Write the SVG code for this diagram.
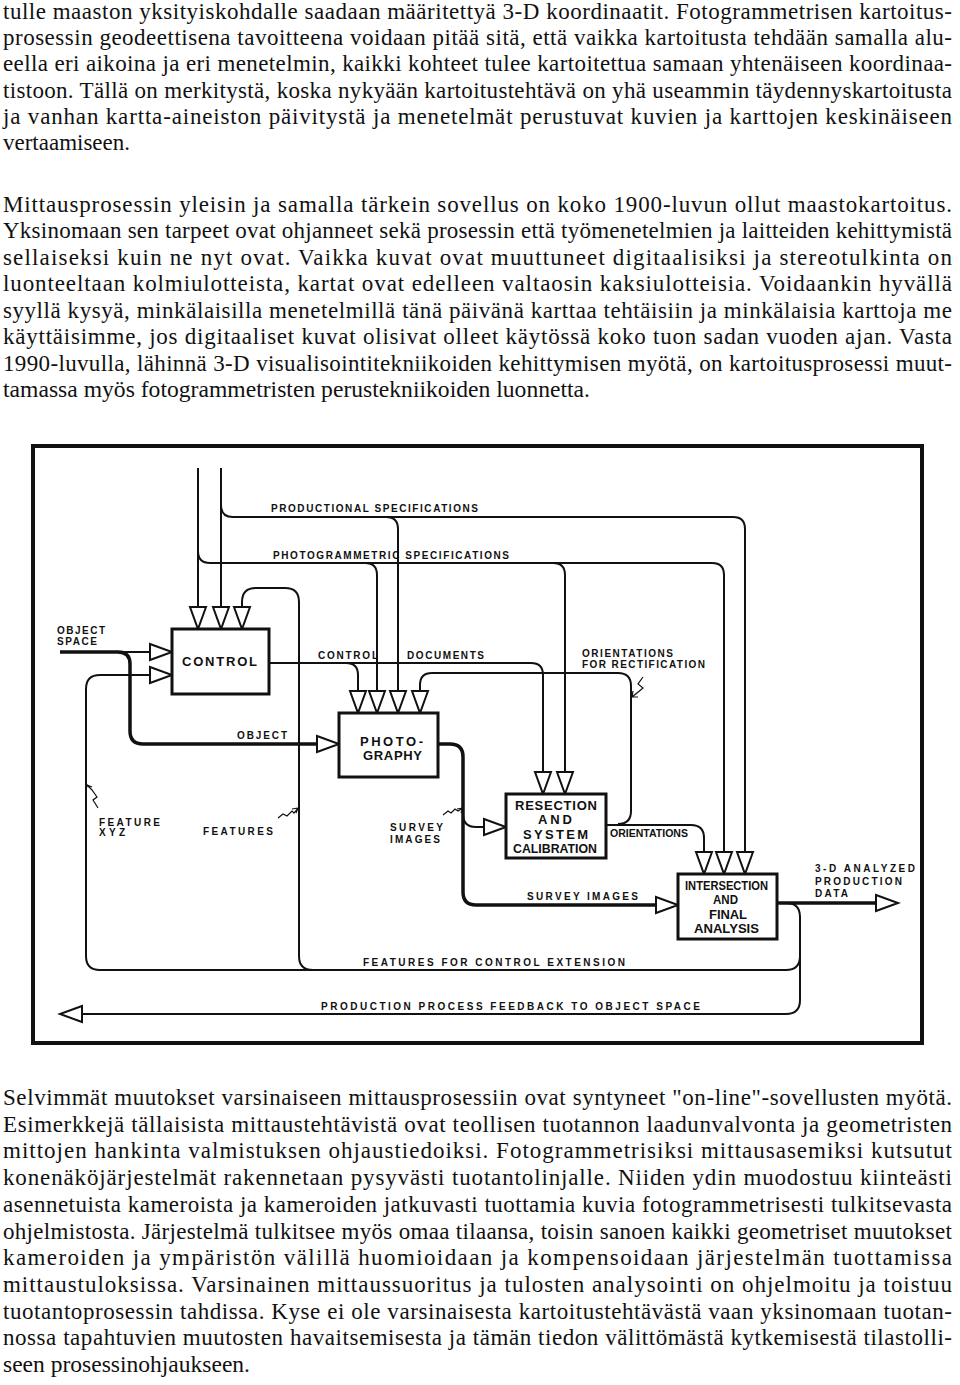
<svg xmlns="http://www.w3.org/2000/svg" width="960" height="1385" viewBox="0 0 960 1385">
<defs>
<style>
.p{font-family:"Liberation Serif","Times New Roman",serif;font-size:23px;fill:#111}
.lb{font-family:"Liberation Sans",Arial,sans-serif;font-weight:bold;font-size:10px;fill:#111}
.bt{font-family:"Liberation Sans",Arial,sans-serif;font-weight:bold;font-size:13px;fill:#111}
.bx{fill:#fff;stroke:#111;stroke-width:3}
.c{fill:none;stroke:#111;stroke-width:2}
.ck{fill:none;stroke:#111;stroke-width:3.5}
.sq{fill:none;stroke:#111;stroke-width:1.2}
.fr{fill:none;stroke:#111;stroke-width:4}
</style>
<marker id="ah" markerUnits="userSpaceOnUse" markerWidth="26" markerHeight="20" viewBox="0 0 26 20" refX="18" refY="10" orient="auto" overflow="visible">
<path d="M2,2 L24,10 L2,18 Z" fill="#fff" stroke="#111" stroke-width="2"/>
</marker>
</defs>
<rect width="960" height="1385" fill="#fff"/>

<g id="text-top">
<text class="p" x="3" y="19" textLength="949" lengthAdjust="spacing">tulle maaston yksityiskohdalle saadaan määritettyä 3-D koordinaatit. Fotogrammetrisen kartoitus-</text>
<text class="p" x="3" y="45.2" textLength="949" lengthAdjust="spacing">prosessin geodeettisena tavoitteena voidaan pitää sitä, että vaikka kartoitusta tehdään samalla alu-</text>
<text class="p" x="3" y="71.4" textLength="949" lengthAdjust="spacing">eella eri aikoina ja eri menetelmin, kaikki kohteet tulee kartoitettua samaan yhtenäiseen koordinaa-</text>
<text class="p" x="3" y="97.6" textLength="949" lengthAdjust="spacing">tistoon. Tällä on merkitystä, koska nykyään kartoitustehtävä on yhä useammin täydennyskartoitusta</text>
<text class="p" x="3" y="123.8" textLength="949" lengthAdjust="spacing">ja vanhan kartta-aineiston päivitystä ja menetelmät perustuvat kuvien ja karttojen keskinäiseen</text>
<text class="p" x="3" y="150" textLength="127" lengthAdjust="spacingAndGlyphs">vertaamiseen.</text>

<text class="p" x="3" y="211.5" textLength="949" lengthAdjust="spacing">Mittausprosessin yleisin ja samalla tärkein sovellus on koko 1900-luvun ollut maastokartoitus.</text>
<text class="p" x="3" y="238" textLength="949" lengthAdjust="spacing">Yksinomaan sen tarpeet ovat ohjanneet sekä prosessin että työmenetelmien ja laitteiden kehittymistä</text>
<text class="p" x="3" y="264.5" textLength="949" lengthAdjust="spacing">sellaiseksi kuin ne nyt ovat. Vaikka kuvat ovat muuttuneet digitaalisiksi ja stereotulkinta on</text>
<text class="p" x="3" y="291" textLength="949" lengthAdjust="spacing">luonteeltaan kolmiulotteista, kartat ovat edelleen valtaosin kaksiulotteisia. Voidaankin hyvällä</text>
<text class="p" x="3" y="317.5" textLength="949" lengthAdjust="spacing">syyllä kysyä, minkälaisilla menetelmillä tänä päivänä karttaa tehtäisiin ja minkälaisia karttoja me</text>
<text class="p" x="3" y="344" textLength="949" lengthAdjust="spacing">käyttäisimme, jos digitaaliset kuvat olisivat olleet käytössä koko tuon sadan vuoden ajan. Vasta</text>
<text class="p" x="3" y="370.5" textLength="949" lengthAdjust="spacing">1990-luvulla, lähinnä 3-D visualisointitekniikoiden kehittymisen myötä, on kartoitusprosessi muut-</text>
<text class="p" x="3" y="397" textLength="587" lengthAdjust="spacingAndGlyphs">tamassa myös fotogrammetristen perustekniikoiden luonnetta.</text>
</g>

<rect id="frame" class="fr" x="33" y="446" width="889" height="597"/>

<g id="connectors">
<path class="c" d="M221 468 V623" marker-end="url(#ah)"/>
<path class="c" d="M221 505 Q221 517 233 517 H733 Q745 517 745 529 V868" marker-end="url(#ah)"/>
<path class="c" d="M386 517 Q398 517 398 529 V707" marker-end="url(#ah)"/>
<path class="c" d="M198 468 V623" marker-end="url(#ah)"/>
<path class="c" d="M198 551 Q198 563 210 563 H712 Q724 563 724 575 V868" marker-end="url(#ah)"/>
<path class="c" d="M365 563 Q377 563 377 575 V707" marker-end="url(#ah)"/>
<path class="c" d="M553 563 Q565 563 565 575 V788" marker-end="url(#ah)"/>
<path class="c" d="M269 663 H531 Q543 663 543 675 V788" marker-end="url(#ah)"/>
<path class="c" d="M346 663 Q358 663 358 675 V707" marker-end="url(#ah)"/>
<path class="c" d="M618 824 Q631 824 631 811 V686 Q631 673 618 673 H432 Q420 673 420 685 V707" marker-end="url(#ah)"/>
<path class="c" d="M606 825 H691 Q704 825 704 838 V868" marker-end="url(#ah)"/>
<path class="c" d="M800 956 Q800 970 786 970 H313 Q299 970 299 956 V602 Q299 588 285 588 H256 Q242 588 242 602 V623" marker-end="url(#ah)"/>
<path class="c" d="M313 970 H100 Q86 970 86 956 V689 Q86 675 100 675 H166" marker-end="url(#ah)"/>
<path class="c" d="M786 903 Q800 903 800 917 V1000 Q800 1014 786 1014 H66" marker-end="url(#ah)"/>
<path class="ck" d="M777 903 H892" marker-end="url(#ah)"/>
<path class="ck" d="M60 652 H118 Q130 652 130 664 V731 Q130 744 143 744 H333" marker-end="url(#ah)"/>
<path class="c" d="M112 652 H166" marker-end="url(#ah)"/>
<path class="ck" d="M438 744 H450 Q463 744 463 757 V892 Q463 905 476 905 H672" marker-end="url(#ah)"/>
<path class="c" d="M463 814 Q463 827 476 827 H500" marker-end="url(#ah)"/>
<path class="sq" d="M98 808 L93 800 L97 797 L92 790 L87 785 M87 785 L86 791 M87 785 L92 787"/>
<path class="sq" d="M278 818 L283 814 L287 816 L292 811 L294 813 L298 808 M298 808 L292 809 M298 808 L296 813"/>
<path class="sq" d="M443 815 L448 811 L451 813 L455 809 L458 811 L463 808 M463 808 L457 809 M463 808 L461 813"/>
<path class="sq" d="M643 677 L638 684 L643 688 L637 693 L632 697 M632 697 L638 697 M632 697 L633 691"/>
</g>

<g id="labels">
<text class="lb" x="271" y="512" textLength="207" lengthAdjust="spacing">PRODUCTIONAL SPECIFICATIONS</text>
<text class="lb" x="273" y="559" textLength="236" lengthAdjust="spacing">PHOTOGRAMMETRIC SPECIFICATIONS</text>
<text class="lb" x="57" y="634" textLength="48" lengthAdjust="spacing">OBJECT</text>
<text class="lb" x="57" y="645" textLength="40" lengthAdjust="spacing">SPACE</text>
<text class="lb" x="318" y="659" textLength="60" lengthAdjust="spacing">CONTROL</text>
<text class="lb" x="407" y="659" textLength="77" lengthAdjust="spacing">DOCUMENTS</text>
<text class="lb" x="582" y="657" textLength="91" lengthAdjust="spacing">ORIENTATIONS</text>
<text class="lb" x="582" y="668" textLength="123" lengthAdjust="spacing">FOR RECTIFICATION</text>
<text class="lb" x="237" y="739" textLength="50" lengthAdjust="spacing">OBJECT</text>
<text class="lb" x="99" y="826" textLength="61" lengthAdjust="spacing">FEATURE</text>
<text class="lb" x="99" y="836" textLength="26" lengthAdjust="spacing">XYZ</text>
<text class="lb" x="203" y="835" textLength="70" lengthAdjust="spacing">FEATURES</text>
<text class="lb" x="390" y="831" textLength="53" lengthAdjust="spacing">SURVEY</text>
<text class="lb" x="390" y="843" textLength="50" lengthAdjust="spacing">IMAGES</text>
<text class="lb" x="610" y="837" textLength="78" lengthAdjust="spacingAndGlyphs" style="font-size:11px">ORIENTATIONS</text>
<text class="lb" x="527" y="900" textLength="111" lengthAdjust="spacing">SURVEY IMAGES</text>
<text class="lb" x="815" y="872" textLength="100" lengthAdjust="spacing">3-D ANALYZED</text>
<text class="lb" x="815" y="885" textLength="87" lengthAdjust="spacing">PRODUCTION</text>
<text class="lb" x="815" y="897" textLength="33" lengthAdjust="spacing">DATA</text>
<text class="lb" x="363" y="966" textLength="262" lengthAdjust="spacing">FEATURES FOR CONTROL EXTENSION</text>
<text class="lb" x="321" y="1010" textLength="379" lengthAdjust="spacing">PRODUCTION PROCESS FEEDBACK TO OBJECT SPACE</text>
</g>

<g id="node-control">
<rect class="bx" x="172" y="629" width="97" height="65"/>
<text class="bt" x="182" y="666" textLength="75" lengthAdjust="spacing">CONTROL</text>
</g>
<g id="node-photography">
<rect class="bx" x="339" y="713" width="99" height="64"/>
<text class="bt" x="360" y="746" textLength="63" lengthAdjust="spacing">PHOTO-</text>
<text class="bt" x="363" y="760" textLength="59" lengthAdjust="spacing">GRAPHY</text>
</g>
<g id="node-resection">
<rect class="bx" x="506" y="794" width="100" height="64"/>
<text class="bt" x="515" y="810" textLength="82" lengthAdjust="spacing">RESECTION</text>
<text class="bt" x="538" y="824" textLength="34" lengthAdjust="spacing">AND</text>
<text class="bt" x="523" y="839" textLength="65" lengthAdjust="spacing">SYSTEM</text>
<text class="bt" x="513" y="853" textLength="84" lengthAdjust="spacingAndGlyphs">CALIBRATION</text>
</g>
<g id="node-intersection">
<rect class="bx" x="678" y="874" width="99" height="65"/>
<text class="bt" x="685" y="890" textLength="83" lengthAdjust="spacingAndGlyphs">INTERSECTION</text>
<text class="bt" x="713" y="904" textLength="25" lengthAdjust="spacingAndGlyphs">AND</text>
<text class="bt" x="709" y="919" textLength="38" lengthAdjust="spacing">FINAL</text>
<text class="bt" x="694" y="933" textLength="65" lengthAdjust="spacingAndGlyphs">ANALYSIS</text>
</g>

<g id="text-bottom">
<text class="p" x="3" y="1105" textLength="949" lengthAdjust="spacing">Selvimmät muutokset varsinaiseen mittausprosessiin ovat syntyneet "on-line"-sovellusten myötä.</text>
<text class="p" x="3" y="1131.7" textLength="949" lengthAdjust="spacing">Esimerkkejä tällaisista mittaustehtävistä ovat teollisen tuotannon laadunvalvonta ja geometristen</text>
<text class="p" x="3" y="1158.4" textLength="949" lengthAdjust="spacing">mittojen hankinta valmistuksen ohjaustiedoiksi.  Fotogrammetrisiksi mittausasemiksi kutsutut</text>
<text class="p" x="3" y="1185.1" textLength="949" lengthAdjust="spacing">konenäköjärjestelmät rakennetaan pysyvästi tuotantolinjalle. Niiden ydin muodostuu kiinteästi</text>
<text class="p" x="3" y="1211.8" textLength="949" lengthAdjust="spacing">asennetuista kameroista ja kameroiden jatkuvasti tuottamia kuvia fotogrammetrisesti tulkitsevasta</text>
<text class="p" x="3" y="1238.5" textLength="949" lengthAdjust="spacing">ohjelmistosta. Järjestelmä tulkitsee myös omaa tilaansa, toisin sanoen kaikki geometriset muutokset</text>
<text class="p" x="3" y="1265.2" textLength="949" lengthAdjust="spacing">kameroiden ja ympäristön välillä huomioidaan ja kompensoidaan järjestelmän tuottamissa</text>
<text class="p" x="3" y="1291.9" textLength="949" lengthAdjust="spacing">mittaustuloksissa. Varsinainen mittaussuoritus ja tulosten analysointi on ohjelmoitu ja toistuu</text>
<text class="p" x="3" y="1318.6" textLength="949" lengthAdjust="spacing">tuotantoprosessin tahdissa. Kyse ei ole varsinaisesta kartoitustehtävästä vaan yksinomaan tuotan-</text>
<text class="p" x="3" y="1345.3" textLength="949" lengthAdjust="spacing">nossa tapahtuvien muutosten havaitsemisesta ja tämän tiedon välittömästä kytkemisestä tilastolli-</text>
<text class="p" x="3" y="1372" textLength="247" lengthAdjust="spacingAndGlyphs">seen prosessinohjaukseen.</text>
</g>
</svg>
